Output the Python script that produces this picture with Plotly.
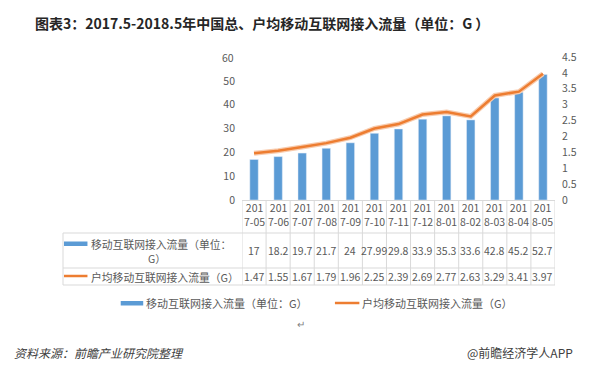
import plotly.graph_objects as go

categories = ["2017-05", "2017-06", "2017-07", "2017-08", "2017-09", "2017-10", "2017-11",
              "2017-12", "2018-01", "2018-02", "2018-03", "2018-04", "2018-05"]
tick_labels = ["201<br>7-05", "201<br>7-06", "201<br>7-07", "201<br>7-08", "201<br>7-09",
               "201<br>7-10", "201<br>7-11", "201<br>7-12", "201<br>8-01", "201<br>8-02",
               "201<br>8-03", "201<br>8-04", "201<br>8-05"]
total_traffic = [17, 18.2, 19.7, 21.7, 24, 27.99, 29.8, 33.9, 35.3, 33.6, 42.8, 45.2, 52.7]
household_traffic = [1.47, 1.55, 1.67, 1.79, 1.96, 2.25, 2.39, 2.69, 2.77, 2.63, 3.29, 3.41, 3.97]
total_labels = ["17", "18.2", "19.7", "21.7", "24", "27.99", "29.8", "33.9", "35.3", "33.6",
                "42.8", "45.2", "52.7"]
household_labels = ["1.47", "1.55", "1.67", "1.79", "1.96", "2.25", "2.39", "2.69", "2.77",
                    "2.63", "3.29", "3.41", "3.97"]
left_ticks = [0, 10, 20, 30, 40, 50]
left_top_tick = 60
right_ticks = [0, 0.5, 1, 1.5, 2, 2.5, 3, 3.5, 4, 4.5]
series1_name = "移动互联网接入流量（单位：G）"
series1_row_label = ["移动互联网接入流量（单位：", "G）"]
series2_name = "户均移动互联网接入流量（G）"
title_text = "图表3：2017.5-2018.5年中国总、户均移动互联网接入流量（单位：G ）"

W, H = 589, 370
L, R, T, B = 242, 562, 57, 200

def px(x):
    return (x - L) / (R - L)

def py(y):
    return (B - y) / (B - T)

BLUE = "#5B9BD5"
ORANGE = "#ED7D31"
GRID = "#D9D9D9"
TXT = "#595959"
FONT = "Noto Sans CJK SC"

fig = go.Figure()
fig.add_trace(go.Bar(x=categories, y=total_traffic, name=series1_name,
                     marker=dict(color=BLUE), width=0.35, yaxis="y"))
fig.add_trace(go.Scatter(x=categories, y=household_traffic, yaxis="y2", mode="lines",
                         line=dict(color="#F8CBAD", width=5), showlegend=False,
                         hoverinfo="skip"))
fig.add_trace(go.Scatter(x=categories, y=household_traffic, name=series2_name, yaxis="y2",
                         mode="lines", line=dict(color=ORANGE, width=2.5)))

shapes = []
# table vertical lines (column boundaries)
for i in range(len(categories) + 1):
    shapes.append(dict(type="line", xref="x", yref="paper", x0=i - 0.5, x1=i - 0.5,
                       y0=py(201), y1=py(285), line=dict(color=GRID, width=1)))
# left border of label column
shapes.append(dict(type="line", xref="paper", yref="paper", x0=px(59), x1=px(59),
                   y0=py(233), y1=py(285), line=dict(color=GRID, width=1)))
# horizontal lines
for yy in (233, 268, 285):
    shapes.append(dict(type="line", xref="paper", yref="paper", x0=px(59), x1=1,
                       y0=py(yy), y1=py(yy), line=dict(color=GRID, width=1)))
# legend keys in the table
shapes.append(dict(type="rect", xref="paper", yref="paper", x0=px(60), x1=px(84),
                   y0=py(246), y1=py(241.5), fillcolor=BLUE, line=dict(width=0)))
shapes.append(dict(type="line", xref="paper", yref="paper", x0=px(60), x1=px(84),
                   y0=py(276), y1=py(276), line=dict(color=ORANGE, width=2.5)))
# bottom legend keys
shapes.append(dict(type="rect", xref="paper", yref="paper", x0=px(118), x1=px(141),
                   y0=py(305.5), y1=py(301), fillcolor=BLUE, line=dict(width=0)))
shapes.append(dict(type="line", xref="paper", yref="paper", x0=px(337), x1=px(362),
                   y0=py(303), y1=py(303), line=dict(color=ORANGE, width=2.5)))

def note(x, y, text, size=11, color=TXT, xanchor="center", xref="paper", align="center",
         yref="paper"):
    return dict(x=x, xref=xref, y=y, yref=yref, text=text, showarrow=False,
                xanchor=xanchor, yanchor="middle", align=align,
                font=dict(size=size, color=color, family=FONT))

annotations = []
for c, hd, t1, t2 in zip(categories, tick_labels, total_labels, household_labels):
    annotations.append(note(c, py(214), hd, size=10.5, xref="x"))
    annotations.append(note(c, py(250.5), t1, size=10.5, xref="x"))
    annotations.append(note(c, py(276.5), t2, size=10.5, xref="x"))
# top tick label of the left axis, placed on the axis' own scale
annotations.append(note(px(236), left_top_tick, str(left_top_tick), size=10.5,
                        xanchor="right", yref="y"))
annotations.append(note(px(86), py(243.5), series1_row_label[0], size=10.8, xanchor="left"))
annotations.append(note(px(155), py(258), series1_row_label[1], size=10.5))
annotations.append(note(px(86), py(276.5), series2_name, size=10.8, xanchor="left"))
annotations.append(note(px(142), py(303), series1_name, xanchor="left"))
annotations.append(note(px(363), py(303), series2_name, xanchor="left"))
annotations.append(note(px(302), py(323), "↵", size=10, color="#7F7F7F"))
annotations.append(note(px(7), py(352), "<i>资料来源：前瞻产业研究院整理</i>", size=12,
                        color="#404040", xanchor="left"))
annotations.append(note(px(582), py(352), "@前瞻经济学人APP", size=12, color="#404040",
                        xanchor="right"))
annotations.append(note(px(262), py(23), "<b>" + title_text + "</b>", size=14,
                        color="#262626"))

fig.update_layout(
    width=W, height=H,
    margin=dict(l=L, r=W - R, t=T, b=H - B, pad=0),
    paper_bgcolor="white", plot_bgcolor="white",
    font=dict(family=FONT, color=TXT, size=10.5),
    xaxis=dict(type="category", showticklabels=False,
               showgrid=False, showline=True, linecolor=GRID, ticks="",
               range=[-0.5, len(categories) - 0.5]),
    yaxis=dict(range=[0, 60], tickmode="array", tickvals=left_ticks,
               ticktext=[str(v) for v in left_ticks], showgrid=False, zeroline=False,
               showline=False, tickfont=dict(size=10.5, color=TXT), ticklabelstandoff=6,
               ticklabeloverflow="allow"),
    yaxis2=dict(range=[0, 4.5], tickmode="array", tickvals=right_ticks,
                ticktext=[f"{v:g}" for v in right_ticks], overlaying="y", side="right",
                showgrid=False, zeroline=False, showline=False,
                tickfont=dict(size=10.5, color=TXT), ticklabelstandoff=6,
                ticklabeloverflow="allow"),
    showlegend=False,
    shapes=shapes, annotations=annotations, bargap=0.6,
)

fig.write_html("out.html", post_script="document.body.style.margin='0px';",
               config={"displayModeBar": False})
